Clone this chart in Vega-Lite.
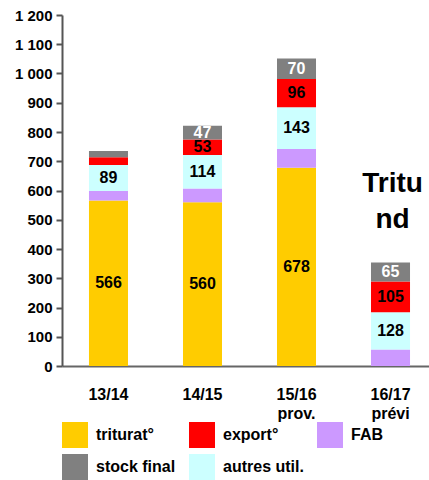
{
  "$schema": "https://vega.github.io/schema/vega-lite/v6.json",
  "autosize": {"type": "none"},
  "width": 367,
  "height": 351,
  "padding": {"left": 62, "top": 15, "right": 0, "bottom": 114},
  "background": "white",
  "config": {
    "view": {"stroke": null},
    "font": "Liberation Sans",
    "text": {"font": "Liberation Sans"},
    "axisY": {
      "title": null,
      "values": [0, 100, 200, 300, 400, 500, 600, 700, 800, 900, 1000, 1100, 1200],
      "labelExpr": "replace(format(datum.value, ','), ',', ' ')",
      "labelOverlap": false,
      "grid": false,
      "tickSize": 6,
      "tickWidth": 2,
      "tickColor": "#555555",
      "domainColor": "#555555",
      "domainWidth": 2,
      "labelFont": "Liberation Sans",
      "labelFontSize": 15,
      "labelFontWeight": "bold",
      "labelColor": "black",
      "labelPadding": 4
    }
  },
  "datasets": {
    "main": [
      {"cat": "13/14", "serie": "triturat°", "ord": 1, "value": 566, "label": "566"},
      {"cat": "13/14", "serie": "FAB", "ord": 2, "value": 32, "label": ""},
      {"cat": "13/14", "serie": "autres util.", "ord": 3, "value": 89, "label": "89"},
      {"cat": "13/14", "serie": "export°", "ord": 4, "value": 27, "label": ""},
      {"cat": "13/14", "serie": "stock final", "ord": 5, "value": 21, "label": ""},
      {"cat": "14/15", "serie": "triturat°", "ord": 1, "value": 560, "label": "560"},
      {"cat": "14/15", "serie": "FAB", "ord": 2, "value": 47, "label": ""},
      {"cat": "14/15", "serie": "autres util.", "ord": 3, "value": 114, "label": "114"},
      {"cat": "14/15", "serie": "export°", "ord": 4, "value": 53, "label": "53"},
      {"cat": "14/15", "serie": "stock final", "ord": 5, "value": 47, "label": "47"},
      {"cat": "15/16 prov.", "serie": "triturat°", "ord": 1, "value": 678, "label": "678"},
      {"cat": "15/16 prov.", "serie": "FAB", "ord": 2, "value": 64, "label": ""},
      {"cat": "15/16 prov.", "serie": "autres util.", "ord": 3, "value": 143, "label": "143"},
      {"cat": "15/16 prov.", "serie": "export°", "ord": 4, "value": 96, "label": "96"},
      {"cat": "15/16 prov.", "serie": "stock final", "ord": 5, "value": 70, "label": "70"},
      {"cat": "16/17 prévi", "serie": "FAB", "ord": 2, "value": 56, "label": ""},
      {"cat": "16/17 prévi", "serie": "autres util.", "ord": 3, "value": 128, "label": "128"},
      {"cat": "16/17 prévi", "serie": "export°", "ord": 4, "value": 105, "label": "105"},
      {"cat": "16/17 prévi", "serie": "stock final", "ord": 5, "value": 65, "label": "65"}
    ],
    "note": [
      {"cat": "16/17 prévi", "value": 595, "txt": "Tritu"},
      {"cat": "16/17 prévi", "value": 472, "txt": "nd"}
    ]
  },
  "encoding": {
    "x": {
      "field": "cat",
      "type": "nominal",
      "scale": {"range": [0, 375], "paddingInner": 0.585, "paddingOuter": 0.287},
      "axis": {
        "title": null,
        "labelAngle": 0,
        "ticks": false,
        "domainColor": "#666666",
        "domainWidth": 2,
        "labelFont": "Liberation Sans",
        "labelFontSize": 16,
        "labelFontWeight": "bold",
        "labelColor": "black",
        "labelPadding": 20,
        "labelLineHeight": 19,
        "labelExpr": "split(datum.label, ' ')"
      }
    }
  },
  "layer": [
    {
      "data": {"name": "main"},
      "mark": {"type": "bar"},
      "encoding": {
        "y": {
          "field": "value",
          "type": "quantitative",
          "stack": "zero",
          "scale": {"domain": [0, 1200], "nice": false},
          "axis": {"values": [0, 100, 200, 300, 400, 500, 600, 700, 800, 900, 1000, 1100, 1200], "labelOverlap": false}
        },
        "color": {
          "field": "serie",
          "type": "nominal",
          "scale": {
            "domain": ["triturat°", "export°", "FAB", "stock final", "autres util."],
            "range": ["#FFCC00", "#FF0000", "#CC99FF", "#808080", "#CCFFFF"]
          },
          "legend": {
            "title": null,
            "orient": "bottom",
            "direction": "horizontal",
            "columns": 3,
            "symbolType": "square",
            "symbolSize": 676,
            "symbolStrokeWidth": 0,
            "labelFont": "Liberation Sans",
            "labelFontSize": 16,
            "labelFontWeight": "bold",
            "labelColor": "black",
            "labelOffset": 8,
            "columnPadding": 13,
            "rowPadding": 6,
            "offset": 1,
            "padding": 0
          }
        },
        "order": {"field": "ord", "type": "quantitative"}
      }
    },
    {
      "data": {"name": "main"},
      "mark": {"type": "text", "fontSize": 16, "fontWeight": "bold", "baseline": "middle", "align": "center"},
      "encoding": {
        "y": {"field": "value", "type": "quantitative", "stack": "zero", "bandPosition": 0.5,
          "axis": {"values": [0, 100, 200, 300, 400, 500, 600, 700, 800, 900, 1000, 1100, 1200], "labelOverlap": false}},
        "detail": {"field": "serie", "type": "nominal"},
        "order": {"field": "ord", "type": "quantitative"},
        "text": {"field": "label", "type": "nominal"},
        "color": {
          "condition": {"test": "datum.serie === 'stock final'", "value": "white"},
          "value": "black"
        }
      }
    },
    {
      "data": {"name": "note"},
      "mark": {"type": "text", "fontSize": 28, "fontWeight": "bold", "baseline": "alphabetic", "align": "center", "color": "black", "dx": 2},
      "encoding": {
        "y": {"field": "value", "type": "quantitative", "stack": null,
          "axis": {"values": [0, 100, 200, 300, 400, 500, 600, 700, 800, 900, 1000, 1100, 1200], "labelOverlap": false}},
        "text": {"field": "txt", "type": "nominal"}
      }
    }
  ]
}
